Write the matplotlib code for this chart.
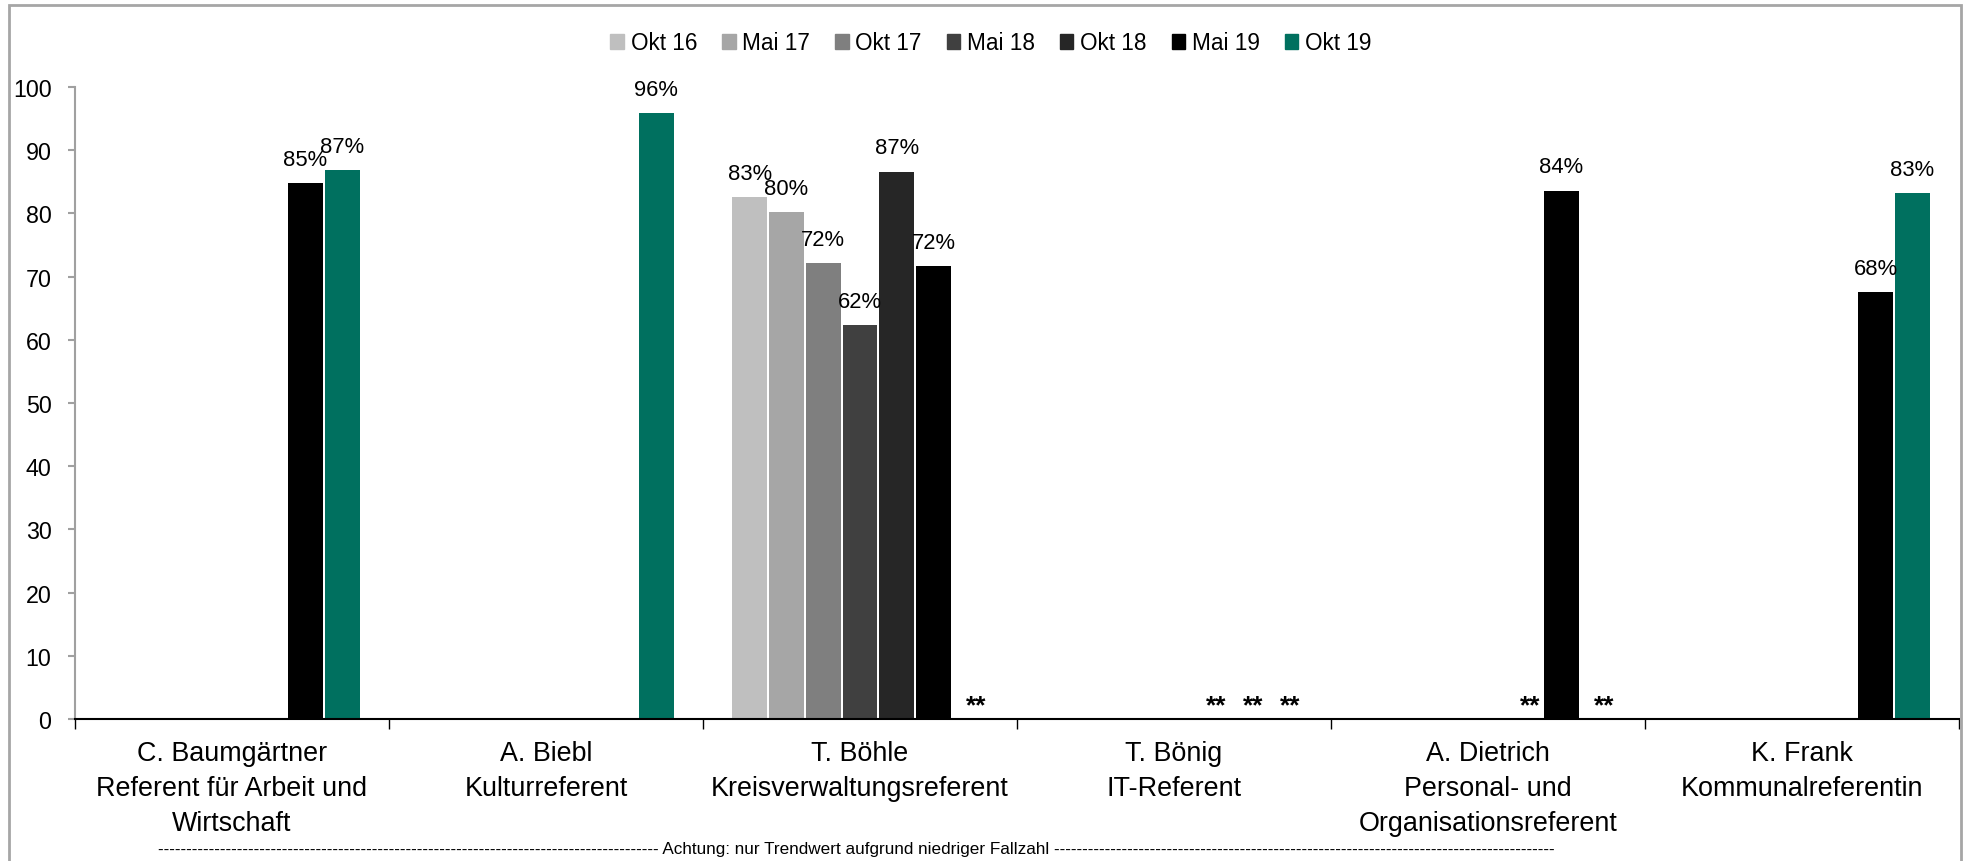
import glob
import numpy as np
import matplotlib
matplotlib.use("Agg")
from matplotlib import pyplot as plt
from matplotlib import font_manager
from matplotlib.patches import Patch, Rectangle

# schmale Schrift suchen (wie Arial Narrow im Original), sonst etwas kleiner setzen
fam = ['Liberation Sans', 'DejaVu Sans']
scale = 0.88
for f in glob.glob("/usr/share/fonts/**/*.ttf", recursive=True):
    if "LiberationSansNarrow-Regular" in f:
        font_manager.fontManager.addfont(f)
        fam = [font_manager.FontProperties(fname=f).get_name()] + fam
        scale = 1.0
        break
plt.rcParams['font.family'] = fam

nan = np.nan
categories = ["C. Baumgärtner\nReferent für Arbeit und\nWirtschaft",
              "A. Biebl\nKulturreferent",
              "T. Böhle\nKreisverwaltungsreferent",
              "T. Bönig\nIT-Referent",
              "A. Dietrich\nPersonal- und\nOrganisationsreferent",
              "K. Frank\nKommunalreferentin"]
periods = ["Okt 16", "Mai 17", "Okt 17", "Mai 18", "Okt 18", "Mai 19", "Okt 19"]

okt16 = [nan, nan, 82.6, nan, nan, nan]
mai17 = [nan, nan, 80.2, nan, nan, nan]
okt17 = [nan, nan, 72.1, nan, nan, nan]
mai18 = [nan, nan, 62.3, nan, nan, nan]
okt18 = [nan, nan, 86.6, nan, nan, nan]
mai19 = [84.8, nan, 71.6, nan, 83.6, 67.6]
okt19 = [86.9, 95.9, nan, nan, nan, 83.2]
series = [okt16, mai17, okt17, mai18, okt18, mai19, okt19]

# Fallzahl zu niedrig -> "**"
low_n = {2: ["Okt 19"], 3: ["Okt 18", "Mai 19", "Okt 19"], 4: ["Okt 18", "Okt 19"]}

colors = ["#BFBFBF", "#A6A6A6", "#7F7F7F", "#404040", "#262626", "#000000", "#00705F"]

fig = plt.figure(figsize=(19.66, 8.62), dpi=100)
ax = fig.add_axes([75 / 1966, 1 - 720 / 862, (1959 - 75) / 1966, (720 - 88) / 862])

x = np.arange(len(categories))
pitch = 0.117
width = 0.111
for i, (name, vals) in enumerate(zip(periods, series)):
    pos = x + (i - 3) * pitch
    ax.bar(pos, vals, width, color=colors[i], label=name)
    for p, v in zip(pos, vals):
        if not np.isnan(v):
            ax.annotate(f"{round(v)}%", (p, v), xytext=(0, 9.5), textcoords="offset points",
                        ha="center", va="bottom", fontsize=18 * scale)
    for c, names in low_n.items():
        if name in names:
            ax.annotate("**", (x[c] + (i - 3) * pitch, 0), xytext=(4, 1), textcoords="offset points",
                        ha="center", va="bottom", fontsize=19, fontweight="bold",
                        family=['Liberation Sans', 'DejaVu Sans'])

ax.set_xlim(-0.5, len(categories) - 0.5)
ax.set_ylim(0, 100)
ax.set_yticks(range(0, 101, 10))
ax.tick_params(axis="y", labelsize=19 * scale, length=5, width=1.5, color="#A0A0A0", pad=12)
ax.spines["left"].set_color("#A0A0A0")
ax.spines["left"].set_linewidth(1.5)
ax.spines["top"].set_visible(False)
ax.spines["right"].set_visible(False)
ax.spines["bottom"].set_linewidth(1.5)

ax.set_xticks(np.arange(-0.5, len(categories)), [""] * (len(categories) + 1))
ax.tick_params(axis="x", which="major", length=7, width=1, color="black")
ax.set_xticks(x, categories, minor=True)
ax.tick_params(axis="x", which="minor", length=0, labelsize=22 * scale, pad=15)
for lbl in ax.get_xticklabels(minor=True):
    lbl.set_linespacing(1.45)

handles = [Patch(color=c, label=p) for c, p in zip(colors, periods)]
fig.legend(handles=handles, loc="center", bbox_to_anchor=(991 / 1966, 1 - 44 / 862), ncol=7,
           frameon=False, fontsize=18.5 * scale, handlelength=0.6, handleheight=0.6,
           handletextpad=0.3, columnspacing=1.1)

dashes = "-" * 89
fig.text(856 / 1966, 1 - 850 / 862, f"{dashes} Achtung: nur Trendwert aufgrund niedriger Fallzahl {dashes}",
         ha="center", va="center", fontsize=14 * scale)

fig.patches.append(Rectangle((9 / 1966, -0.05), (1961 - 9) / 1966, 1.05 - 6 / 862,
                             transform=fig.transFigure, fill=False, edgecolor="#A6A6A6", linewidth=2))

fig.savefig("out.png", dpi=100)
